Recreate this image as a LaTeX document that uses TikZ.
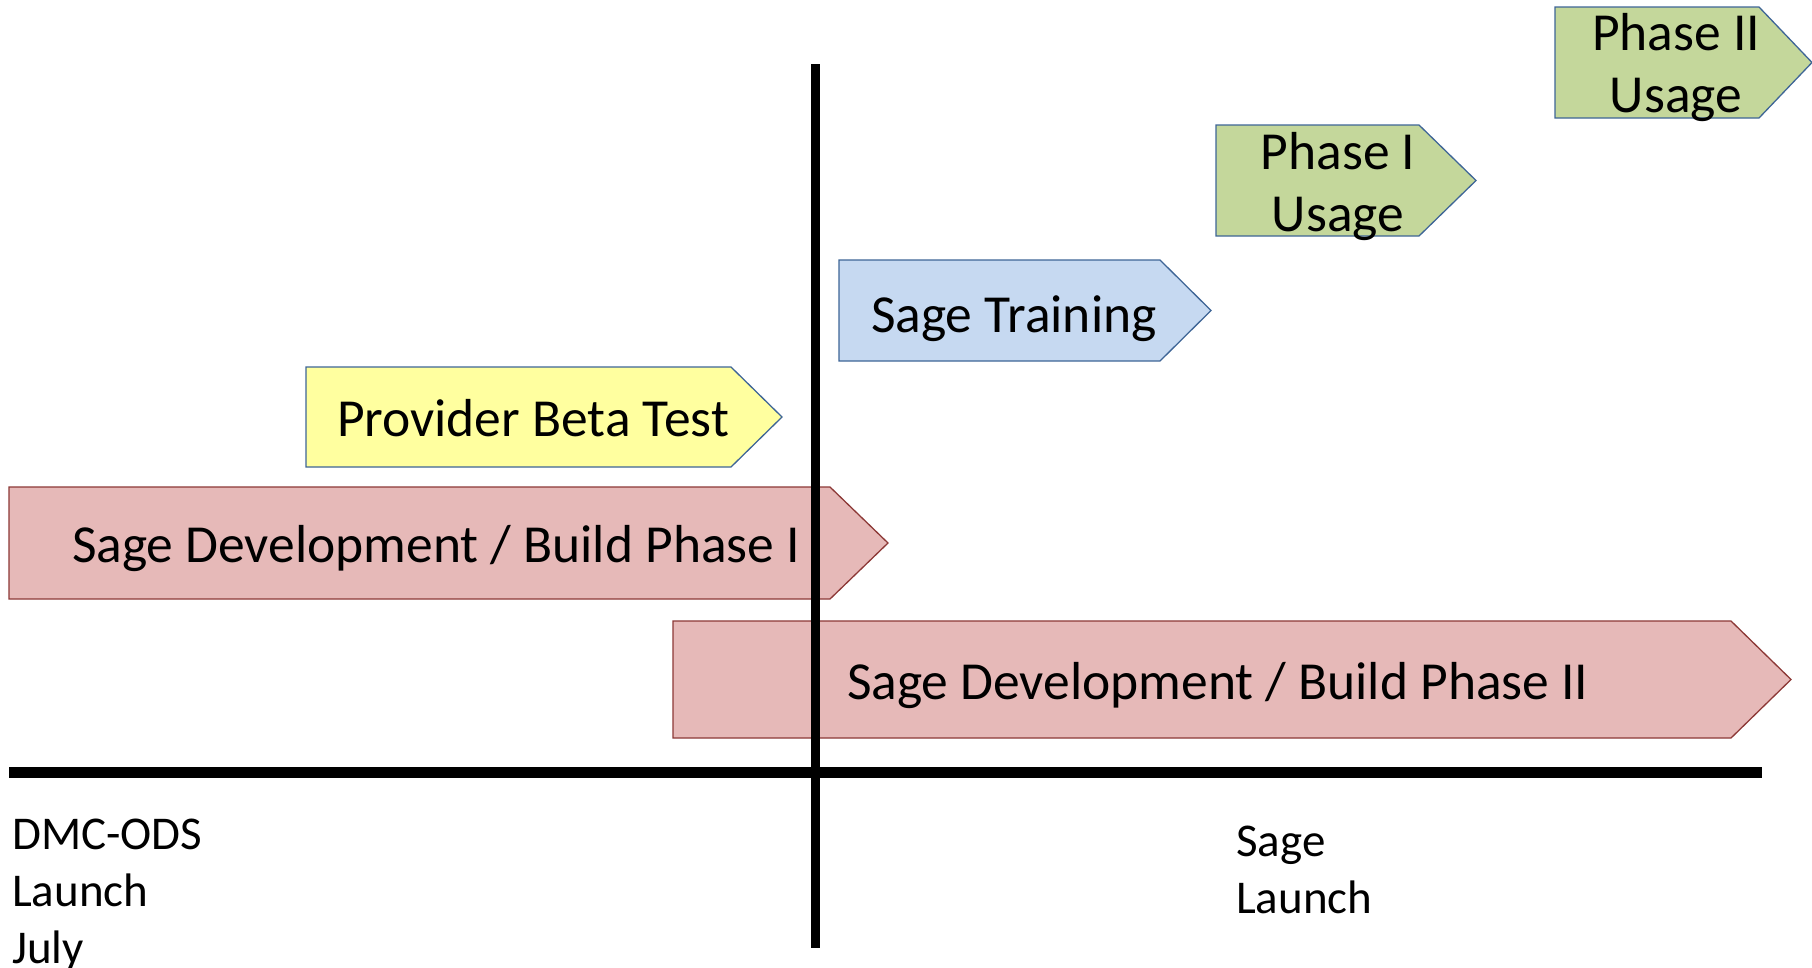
\documentclass[tikz,border=0pt]{standalone}
\usepackage{fontspec}
\setmainfont{Carlito}
\definecolor{devfill}{HTML}{E6B9B8}
\definecolor{devline}{HTML}{8C3836}
\definecolor{betafill}{HTML}{FFFF9F}
\definecolor{trainfill}{HTML}{C6D9F1}
\definecolor{usefill}{HTML}{C4D79B}
\definecolor{boxline}{HTML}{3E6596}
\tikzset{
  devbar/.style={fill=devfill, draw=devline, line width=1.3pt},
  betabar/.style={fill=betafill, draw=boxline, line width=1.3pt},
  trainbar/.style={fill=trainfill, draw=boxline, line width=1.3pt},
  usebar/.style={fill=usefill, draw=boxline, line width=1.3pt},
  bartext/.style={font=\fontsize{53.5}{62}\selectfont, inner sep=0pt, outer sep=0pt},
  milestone/.style={font=\fontsize{47}{57}\selectfont, inner sep=0pt, align=left},
  axis/.style={line width=11pt, black},
  divider/.style={line width=9pt, black}
}
% pentagon arrow bar: left, top, body right, bottom, tip x
\newcommand{\phasebar}[6]{%
  \draw[#6] (#1,#2) -- (#3,#2) -- (#5,{(#2+#4)/2}) -- (#3,#4) -- (#1,#4) -- cycle;}
\begin{document}
\begin{tikzpicture}[x=1pt,y=-1pt]
\useasboundingbox (0,0) rectangle (1812,967);
% phase bars
\phasebar{9}{487}{830}{599}{888}{devbar}
\phasebar{673}{621}{1731}{738}{1791}{devbar}
\phasebar{306}{367}{731}{467}{782}{betabar}
\phasebar{839}{260}{1160}{361}{1211}{trainbar}
\phasebar{1216}{125}{1419}{236}{1476}{usebar}
\phasebar{1555}{7}{1759}{118}{1812}{usebar}
% bar labels (multi-line nodes sit on the baseline of their last line)
\node[bartext, anchor=base west] (dev1) at (72,562) {Sage Development / Build Phase I};
\node[bartext, anchor=base west] (dev2) at (847,699) {Sage Development / Build Phase II};
\node[bartext, anchor=base west] (beta) at (337,436) {Provider Beta Test};
\node[bartext, anchor=base west] (train) at (871,332) {Sage Training};
\node[bartext, align=center, anchor=base] (use1) at (1338,231) {Phase I\\Usage};
\node[bartext, align=center, anchor=base] (use2) at (1676,112) {Phase II\\Usage};
% time axis and launch divider
\coordinate (axisL) at (9,772);
\coordinate (axisR) at (1762,772);
\coordinate (divT) at (815,64);
\coordinate (divB) at (815,948);
\draw[axis] (axisL) -- (axisR);
\draw[divider] (divT) -- (divB);
% milestones
\node[milestone, anchor=base west] (dmc) at (12,963) {DMC-ODS\\Launch\\July};
\node[milestone, anchor=base west] (sage) at (1236,913) {Sage\\Launch};
\end{tikzpicture}
\end{document}
